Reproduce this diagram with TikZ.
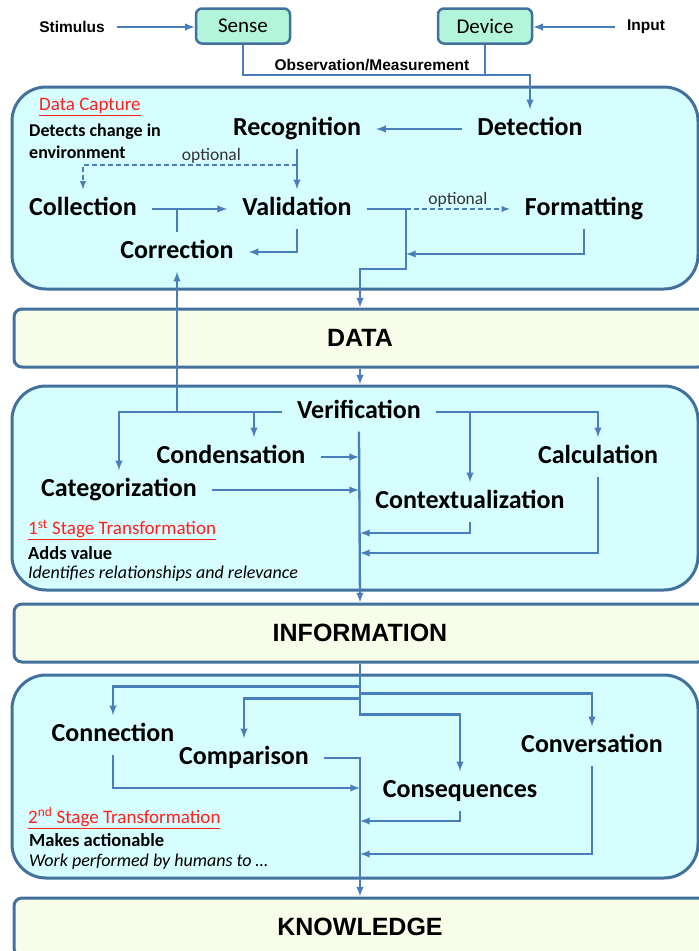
\documentclass[tikz,border=0pt]{standalone}
\usepackage{fontspec}
\setmainfont{Carlito}
\newfontfamily\arialfont{Liberation Sans}
\usetikzlibrary{calc}
\definecolor{FlowBlue}{HTML}{4A7EBB}
\definecolor{BoxEdge}{HTML}{41719C}
\definecolor{StageFill}{HTML}{D7FEFE}
\definecolor{LayerFill}{HTML}{F8FDE9}
\definecolor{SenseFill}{HTML}{B2F5DA}
\definecolor{NoteRed}{HTML}{FF2020}

\tikzset{
  flow/.style={-latex, FlowBlue, line width=2.3pt},
  link/.style={FlowBlue, line width=2.3pt},
  optflow/.style={-latex, FlowBlue, line width=1.8pt, dash pattern=on 5pt off 3pt},
  task/.style={font=\fontsize{26}{30}\selectfont\bfseries, inner xsep=15pt, inner ysep=7pt, text height=19pt, text depth=6pt},
  stagebox/.style={draw=BoxEdge, line width=3pt, fill=StageFill, rounded corners=34pt, minimum width=686pt},
  layer/.style={draw=BoxEdge, line width=3pt, fill=LayerFill, rounded corners=8pt, minimum width=692pt, minimum height=58pt, font=\arialfont\fontsize{25}{30}\selectfont\bfseries},
  source/.style={draw=BoxEdge, line width=2.5pt, fill=SenseFill, rounded corners=6pt, minimum width=94pt, minimum height=35pt, font=\fontsize{21}{24}\selectfont},
  outside/.style={font=\arialfont\fontsize{15.5}{18}\selectfont\bfseries, inner xsep=12pt},
  optlabel/.style={font=\fontsize{17.5}{20}\selectfont, text=black!80, inner sep=1pt},
  note/.style={anchor=west, inner sep=0pt, align=left},
  redtitle/.style={note, text=NoteRed, font=\fontsize{19}{22}\selectfont},
}

\begin{document}
\begin{tikzpicture}[x=1pt, y=-1pt]
	\useasboundingbox (0,0) rectangle (699,951);
	\clip (0,0) rectangle (699,951);
	
	% panels
	\node[stagebox, minimum height=202pt] (capture) at (355,188) {};
	\node[layer] (data) at (360,338) {DATA};
	\node[stagebox, minimum height=204pt] (stage1) at (355,488) {};
	\node[layer] (info) at (360,633) {INFORMATION};
	\node[stagebox, minimum height=203pt] (stage2) at (355,776.5) {};
	\node[layer] (know) at (360,927) {KNOWLEDGE};
	
	% sources
	\node[outside] (stim) at (72,27) {Stimulus};
	\node[source] (sense) at (243,26) {Sense};
	\node[source] (device) at (485,26) {Device};
	\node[outside] (input) at (646,27) {Input};
	\node[outside, inner sep=0pt] (obs) at (372,65) {Observation/Measurement};
	
	% data capture
	\node[redtitle] (captitle) at (39,107) {\underline{Data Capture}};
	\node[note, font=\fontsize{18}{22}\selectfont\bfseries] (capnote) at (29,141) {Detects change in\\environment};
	\node[task] (recog) at (297,129) {Recognition};
	\node[task] (detect) at (530,129) {Detection};
	\node[task] (collect) at (83,209) {Collection};
	\node[task] (valid) at (297,209) {Validation};
	\node[task] (format) at (584,209) {Formatting};
	\node[task] (correct) at (177,252) {Correction};
	
	% 1st stage
	\node[task] (verif) at (359,412) {Verification};
	\node[task] (condens) at (231,457) {Condensation};
	\node[task] (calc) at (598,457) {Calculation};
	\node[task] (categ) at (119,490) {Categorization};
	\node[task] (context) at (470,502) {Contextualization};
	\node[redtitle] (st1title) at (28,530) {\underline{1\textsuperscript{st} Stage Transformation}};
	\node[note, font=\fontsize{18.5}{22}\selectfont\bfseries] (st1a) at (28,553) {Adds value};
	\node[note, font=\fontsize{18}{22}\selectfont\itshape] (st1b) at (28,574) {Identifies relationships and relevance};
	
	% 2nd stage
	\node[task] (connect) at (113,735) {Connection};
	\node[task] (compar) at (244,758) {Comparison};
	\node[task] (convers) at (592,746) {Conversation};
	\node[task] (conseq) at (460,791) {Consequences};
	\node[redtitle] (st2title) at (28,818) {\underline{2\textsuperscript{nd} Stage Transformation}};
	\node[note, font=\fontsize{18.5}{22}\selectfont\bfseries] (st2a) at (29,840) {Makes actionable};
	\node[note, font=\fontsize{18}{22}\selectfont\itshape] (st2b) at (29,862) {Work performed by humans to \dots};
	
	% free ends
	\coordinate (optsplit) at ($(recog.south)!0.4!(valid.north)$);
	\coordinate (vsplit) at (406,209);
	\coordinate (ctxin) at (360,533);
	\coordinate (calcin) at (360,553);
	\coordinate (t1) at ($(info.south)+(0,23)$);
	\coordinate (t2) at ($(info.south)+(0,30)$);
	\coordinate (t3) at ($(info.south)+(0,35)$);
	\coordinate (t4) at ($(info.south)+(0,51)$);
	\coordinate (connin) at (360,788);
	\coordinate (conseqin) at (360,821);
	\coordinate (conversin) at (360,854);
	
	% top
	\draw[flow] (stim.east) -- (stim.east -| sense.west);
	\draw[flow] (input.west) -- (input.west -| device.east);
	\draw[flow] (sense.south) -- ++(0,30) -| (detect.north);
	\draw[link] (device.south) -- ++(0,30);
	
	% capture
	\draw[flow] (detect.west) -- (recog.east);
	\draw[flow] (recog.south) -- (valid.north);
	\draw[optflow] (optsplit) -| (collect.north) node[optlabel, pos=0.2, above] {optional};
	\draw[flow] (collect.east) -- (valid.west);
	\draw[link] (correct.north) -- (correct.north |- collect.east);
	\draw[flow] (valid.south) |- (correct.east);
	\draw[link] (valid.east) -- (vsplit);
	\draw[optflow] (vsplit) -- (format.west) node[optlabel, midway, above] {optional};
	\draw[flow] (format.south) |- ($(vsplit)+(0,45)$);
	\draw[flow] (vsplit) -- ++(0,60) -| (data.north);
	\draw[flow] (data.south) -- (data.south |- stage1.north);
	
	% 1st stage
	\draw[flow] (verif.west) -| (categ.north);
	\draw[flow] (verif.west) -| ($(condens.north)+(23,0)$);
	\draw[flow] (verif.west -| correct.south) -- (correct.south);
	\draw[flow] (verif.east) -| (calc.north);
	\draw[flow] (verif.east) -| (context.north);
	\draw[flow] (verif.south) -- (info.north);
	\draw[flow] (condens.east) -- (condens.east -| verif.south);
	\draw[flow] (categ.east) -- (categ.east -| verif.south);
	\draw[flow] (context.south) |- (ctxin);
	\draw[flow] (calc.south) |- (calcin);
	
	% 2nd stage
	\draw[flow] (info.south) -- (t4) -| (conseq.north);
	\draw[flow] (t1) -| (connect.north);
	\draw[flow] (t2) -| (convers.north);
	\draw[flow] (t3) -| (compar.north);
	\draw[flow] (compar.east) -| (know.north);
	\draw[flow] (connect.south) |- (connin);
	\draw[flow] (conseq.south) |- (conseqin);
	\draw[flow] (convers.south) |- (conversin);
\end{tikzpicture}
\end{document}
